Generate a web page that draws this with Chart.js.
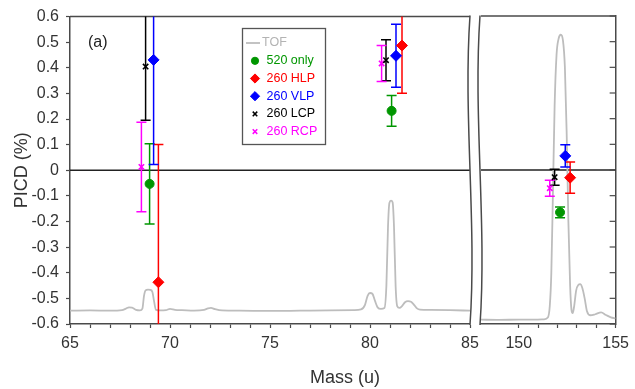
<!DOCTYPE html>
<html><head><meta charset="utf-8">
<script src="https://cdn.jsdelivr.net/npm/chart.js@4/dist/chart.umd.min.js"></script>
<style>
html,body{margin:0;padding:0;background:#fff;}
#wrap{position:relative;width:635px;height:389px;}
canvas{position:absolute;left:0;top:0;}
</style></head><body>
<div id="wrap"><canvas id="c1" width="635" height="389"></canvas><canvas id="c2" width="635" height="389"></canvas></div>
<script>
// ---------------- DATA ----------------
const leftRange = [65, 85];
const rightRange = [148.05, 155];
const picdRange = [-0.6, 0.6];

const mass520 = [68.98, 81.08, 152.13];
const picd520 = [-0.053, 0.232, -0.165];
const err520  = [0.157, 0.06, 0.021];

const massHLP = [69.42, 81.6, 152.65];
const picdHLP = [-0.437, 0.487, -0.03];
const errHLP  = [0.538, 0.186, 0.061];

const massVLP = [69.18, 81.3, 152.4];
const picdVLP = [0.431, 0.447, 0.055];
const errVLP  = [0.408, 0.123, 0.043];

const massLCP = [68.78, 80.8, 151.85];
const picdLCP = [0.405, 0.43, -0.028];
const errLCP  = [0.21, 0.08, 0.031];

const massRCP = [68.57, 80.58, 151.6];
const picdRCP = [0.013, 0.417, -0.071];
const errRCP  = [0.175, 0.07, 0.031];

const tofMassL = [65,66,67,67.6,67.8,67.95,68.1,68.3,68.5,68.62,68.7,68.78,68.9,69.02,69.12,69.2,69.3,69.5,69.8,70.0,70.25,70.6,71.2,71.7,71.9,72.05,72.25,72.6,73.5,75,76.5,78,79.2,79.55,79.75,79.88,80.0,80.12,80.25,80.38,80.55,80.72,80.82,80.9,80.97,81.05,81.13,81.2,81.28,81.36,81.47,81.6,81.75,81.9,82.05,82.2,82.35,82.5,83,84,85];
const tofL = [-0.548,-0.547,-0.548,-0.546,-0.54,-0.535,-0.536,-0.545,-0.547,-0.54,-0.49,-0.469,-0.466,-0.467,-0.475,-0.51,-0.545,-0.547,-0.546,-0.541,-0.545,-0.546,-0.548,-0.545,-0.539,-0.537,-0.542,-0.547,-0.548,-0.549,-0.548,-0.547,-0.546,-0.543,-0.525,-0.49,-0.479,-0.482,-0.51,-0.535,-0.541,-0.538,-0.45,-0.22,-0.127,-0.118,-0.125,-0.22,-0.45,-0.53,-0.537,-0.53,-0.515,-0.511,-0.513,-0.525,-0.539,-0.544,-0.545,-0.546,-0.548];

const tofMassR = [148,149,150,150.8,151.3,151.5,151.6,151.68,151.76,151.85,151.95,152.05,152.17,152.28,152.38,152.47,152.56,152.65,152.72,152.78,152.86,152.96,153.07,153.17,153.28,153.4,153.52,153.7,153.95,154.25,154.5,154.75,155];
const tofR = [-0.583,-0.584,-0.583,-0.583,-0.582,-0.575,-0.53,-0.4,-0.1,0.25,0.45,0.51,0.527,0.505,0.4,0.15,-0.2,-0.45,-0.545,-0.558,-0.53,-0.47,-0.448,-0.445,-0.46,-0.5,-0.55,-0.566,-0.562,-0.555,-0.565,-0.574,-0.578];

const seriesLabels = ['520 only', '260 HLP', '260 VLP', '260 LCP', '260 RCP'];
const tofLabel = 'TOF';

// ---------------- STYLE ----------------
const AXIS = '#4a4a4a';
const TOF_COLOR = '#bdbdbd';
const seriesStyle = [
  {color:'rgb(0,150,0)', style:'circle', r:4.5, lr:3.6},
  {color:'#ff0000', style:'rectRot', r:5.5, lr:4.6},
  {color:'#0000ff', style:'rectRot', r:5.5, lr:4.6},
  {color:'#000000', style:'crossRot', r:3.8, lr:3.2},
  {color:'#ff00ff', style:'crossRot', r:3.8, lr:3.2}
];
const seriesData = [
  [mass520, picd520, err520],
  [massHLP, picdHLP, errHLP],
  [massVLP, picdVLP, errVLP],
  [massLCP, picdLCP, errLCP],
  [massRCP, picdRCP, errRCP]
];

Chart.defaults.font.family = "'Liberation Sans', Arial, sans-serif";
Chart.defaults.color = '#333';

function makeDatasets(tofX, tofY) {
  const ds = seriesData.map((sd, k) => {
    const st = seriesStyle[k];
    return {
      type: 'scatter', label: seriesLabels[k],
      data: sd[0].map((m, i) => ({x: m, y: sd[1][i]})),
      errors: sd[2],
      borderColor: st.color, backgroundColor: st.color,
      pointStyle: st.style, pointRadius: st.r, pointHoverRadius: st.r,
      pointBorderWidth: st.style === 'crossRot' ? 1.6 : 1, showLine: false
    };
  });
  ds.push({
    type: 'line', label: tofLabel,
    data: tofX.map((m, i) => ({x: m, y: tofY[i]})),
    borderColor: TOF_COLOR, borderWidth: 1.8, pointRadius: 0, fill: false,
    cubicInterpolationMode: 'monotone', isTof: true
  });
  return ds;
}

function fmt(v) { const r = Math.round(v * 10) / 10; return (r === 0 ? 0 : r).toString(); }

function drawErrorBars(chart) {
  const ctx = chart.ctx, ca = chart.chartArea, xs = chart.scales.x, ys = chart.scales.y;
  ctx.save();
  ctx.beginPath(); ctx.rect(ca.left, ca.top, ca.right - ca.left, ca.bottom - ca.top); ctx.clip();
  chart.data.datasets.forEach(ds => {
    if (!ds.errors) return;
    ctx.strokeStyle = ds.borderColor; ctx.lineWidth = 1.5;
    ds.data.forEach((p, i) => {
      if (p.x < xs.min || p.x > xs.max) return;
      const x = xs.getPixelForValue(p.x);
      const y1 = ys.getPixelForValue(p.y + ds.errors[i]);
      const y2 = ys.getPixelForValue(p.y - ds.errors[i]);
      ctx.beginPath();
      ctx.moveTo(x, y1); ctx.lineTo(x, y2);
      ctx.moveTo(x - 5, y1); ctx.lineTo(x + 5, y1);
      ctx.moveTo(x - 5, y2); ctx.lineTo(x + 5, y2);
      ctx.stroke();
    });
  });
  ctx.restore();
}

const commonPlugin = {
  id: 'common',
  beforeDatasetsDraw(chart) {
    const ctx = chart.ctx, ca = chart.chartArea, ys = chart.scales.y;
    const y0 = ys.getPixelForValue(0);
    ctx.save();
    ctx.strokeStyle = '#222'; ctx.lineWidth = 1.5;
    ctx.beginPath(); ctx.moveTo(ca.left, y0); ctx.lineTo(ca.right, y0); ctx.stroke();
    ctx.strokeStyle = AXIS;
    ctx.beginPath(); ctx.moveTo(ca.left, ca.top); ctx.lineTo(ca.right, ca.top); ctx.stroke();
    ctx.restore();
  },
  afterDatasetDraw(chart, args) {
    if (chart.data.datasets[args.index].isTof) drawErrorBars(chart);
  }
};

function drawMarker(ctx, style, r, x, y, color) {
  ctx.save();
  ctx.fillStyle = color; ctx.strokeStyle = color;
  ctx.lineWidth = style === 'crossRot' ? 1.5 : 1;
  if (Chart.helpers && Chart.helpers.drawPoint) {
    Chart.helpers.drawPoint(ctx, {pointStyle: style, radius: r, borderWidth: ctx.lineWidth, rotation: 0}, x, y);
  } else {
    ctx.beginPath();
    if (style === 'circle') { ctx.arc(x, y, r, 0, Math.PI * 2); ctx.fill(); }
    else if (style === 'rectRot') { ctx.moveTo(x - r, y); ctx.lineTo(x, y - r); ctx.lineTo(x + r, y); ctx.lineTo(x, y + r); ctx.closePath(); ctx.fill(); }
    else { ctx.moveTo(x - r, y - r); ctx.lineTo(x + r, y + r); ctx.moveTo(x + r, y - r); ctx.lineTo(x - r, y + r); ctx.stroke(); }
  }
  ctx.restore();
}

const leftDecor = {
  id: 'leftDecor',
  afterDraw(chart) {
    const ctx = chart.ctx, ca = chart.chartArea;
    ctx.save();
    // (a)
    ctx.fillStyle = '#222'; ctx.font = "16px 'Liberation Sans', Arial";
    ctx.textBaseline = 'middle'; ctx.textAlign = 'left';
    ctx.fillText('(a)', ca.left + 18, 43);
    // y title
    ctx.save();
    ctx.translate(22, (ca.top + ca.bottom) / 2);
    ctx.rotate(-Math.PI / 2);
    ctx.textAlign = 'center'; ctx.textBaseline = 'middle';
    ctx.font = "18px 'Liberation Sans', Arial"; ctx.fillStyle = '#333';
    ctx.fillText('PICD (%)', 0, 0);
    ctx.restore();
    // x title
    ctx.textAlign = 'center'; ctx.textBaseline = 'middle';
    ctx.font = "18px 'Liberation Sans', Arial"; ctx.fillStyle = '#333';
    ctx.fillText('Mass (u)', 345, 378);
    // legend
    const lx = 242.5, ly = 28.5, lw = 83, lh = 116;
    ctx.fillStyle = '#fff'; ctx.fillRect(lx, ly, lw, lh);
    ctx.strokeStyle = '#555'; ctx.lineWidth = 1.3; ctx.strokeRect(lx, ly, lw, lh);
    ctx.font = "12.5px 'Liberation Sans', Arial"; ctx.textAlign = 'left';
    let y = 43;
    ctx.strokeStyle = TOF_COLOR; ctx.lineWidth = 1.8;
    ctx.beginPath(); ctx.moveTo(246, y); ctx.lineTo(260, y); ctx.stroke();
    ctx.fillStyle = '#b3b3b3'; ctx.fillText(tofLabel, 262, y);
    seriesLabels.forEach((lab, k) => {
      const st = seriesStyle[k];
      const yy = 60.8 + k * 17.7;
      drawMarker(ctx, st.style, st.lr, 255, yy, st.color);
      ctx.fillStyle = st.color;
      ctx.fillText(lab, 266.5, yy);
    });
    ctx.restore();
  }
};

const rightDecor = {
  id: 'rightDecor',
  afterDraw(chart) {
    const ctx = chart.ctx, ca = chart.chartArea, ys = chart.scales.y;
    ctx.save();
    // inward ticks on the right axis
    ctx.strokeStyle = AXIS; ctx.lineWidth = 1.2;
    ys.ticks.forEach(t => {
      const y = ys.getPixelForValue(t.value);
      ctx.beginPath(); ctx.moveTo(ca.right - 6, y); ctx.lineTo(ca.right, y); ctx.stroke();
    });
    // axis break
    const L = ca.left - 11, R = ca.left - 1, top = ca.top, bot = ca.bottom;
    const curve = (x0, dir) => {
      if (dir > 0) {
        ctx.moveTo(x0, top - 0.5);
        ctx.bezierCurveTo(x0 - 7, top + 100, x0 + 7, bot - 100, x0, bot + 1);
      } else {
        ctx.lineTo(x0, bot + 1);
        ctx.bezierCurveTo(x0 + 7, bot - 100, x0 - 7, top + 100, x0, top - 0.5);
      }
    };
    ctx.fillStyle = '#fff';
    ctx.beginPath(); curve(L, 1); curve(R, -1); ctx.closePath(); ctx.fill();
    ctx.strokeStyle = AXIS; ctx.lineWidth = 1.5;
    ctx.beginPath(); curve(L, 1); ctx.stroke();
    ctx.beginPath(); curve(R, 1); ctx.stroke();
    ctx.restore();
  }
};

const tickFont = {size: 16};

new Chart(document.getElementById('c1'), {
  type: 'scatter',
  data: {datasets: makeDatasets(tofMassL, tofL)},
  options: {
    responsive: false, animation: false, devicePixelRatio: 1,
    layout: {padding: {left: 0, right: 165, top: 16, bottom: 0}, autoPadding: false},
    plugins: {legend: {display: false}, tooltip: {enabled: false}},
    scales: {
      x: {type: 'linear', min: leftRange[0], max: leftRange[1],
        afterFit: s => { s.height = 65; },
        ticks: {stepSize: 1, autoSkip: false, maxRotation: 0, padding: 6, font: tickFont, color: '#333',
          callback: v => (Math.abs(v % 5) < 1e-9 ? String(v) : '')},
        grid: {drawOnChartArea: false, tickLength: 4, tickColor: AXIS, tickWidth: 1.2},
        border: {color: AXIS, width: 1.5}},
      y: {type: 'linear', min: picdRange[0], max: picdRange[1],
        afterFit: s => { s.width = 70; },
        ticks: {stepSize: 0.1, padding: 7, font: tickFont, color: '#333', callback: v => fmt(v)},
        grid: {drawOnChartArea: false, tickLength: 4, tickColor: AXIS, tickWidth: 1.2},
        border: {color: AXIS, width: 1.5}}
    }
  },
  plugins: [commonPlugin, leftDecor]
});

new Chart(document.getElementById('c2'), {
  type: 'scatter',
  data: {datasets: makeDatasets(tofMassR, tofR)},
  options: {
    responsive: false, animation: false, devicePixelRatio: 1,
    layout: {padding: {left: 481, right: 15, top: 16, bottom: 0}, autoPadding: false},
    plugins: {legend: {display: false}, tooltip: {enabled: false}},
    scales: {
      x: {type: 'linear', min: rightRange[0], max: rightRange[1],
        afterFit: s => { s.height = 65; },
        afterBuildTicks: s => { s.ticks = s.ticks.filter(t => Math.abs(t.value - Math.round(t.value)) < 1e-9); },
        ticks: {stepSize: 1, autoSkip: false, maxRotation: 0, padding: 6, font: tickFont, color: '#333',
          callback: v => (Math.abs(v % 5) < 1e-9 ? String(v) : '')},
        grid: {drawOnChartArea: false, tickLength: 4, tickColor: AXIS, tickWidth: 1.2},
        border: {color: AXIS, width: 1.5}},
      y: {type: 'linear', position: 'right', min: picdRange[0], max: picdRange[1],
        afterFit: s => { s.width = 0; },
        ticks: {display: false, stepSize: 0.1},
        grid: {drawOnChartArea: false, drawTicks: false},
        border: {color: AXIS, width: 1.5}}
    }
  },
  plugins: [commonPlugin, rightDecor]
});
</script>
</body></html>
